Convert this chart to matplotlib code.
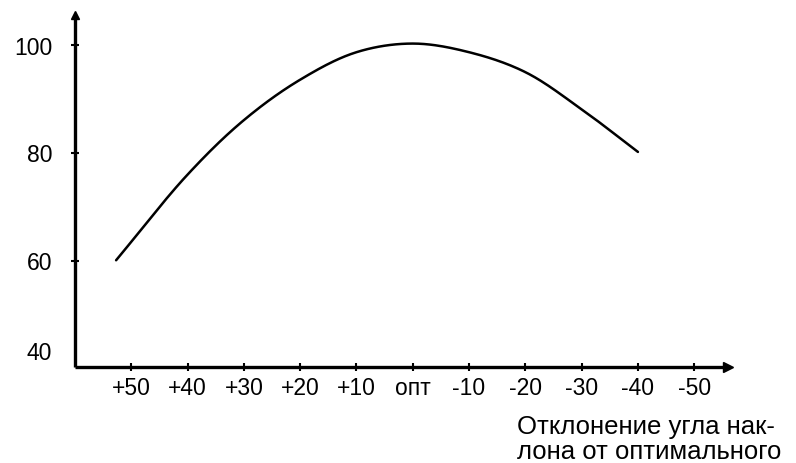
import matplotlib
matplotlib.use("Agg")
import matplotlib.pyplot as plt
import numpy as np

plt.rcParams['font.family'] = ['Liberation Sans', 'DejaVu Sans']

# Data (deviation from optimum; positive = "+")
deviation = [52.7, 40, 30, 20, 10, 0, -10, -20, -30, -40]
efficiency = [60.1, 76.0, 86.1, 93.6, 98.7, 100.3, 98.7, 95.0, 88.1, 80.2]

x_ticks = [50, 40, 30, 20, 10, 0, -10, -20, -30, -40, -50]
x_tick_labels = ['+50', '+40', '+30', '+20', '+10', 'опт', '-10', '-20', '-30', '-40', '-50']
y_ticks = [40, 60, 80, 100]
y_tick_labels = ['40', '60', '80', '100']
x_title = 'Отклонение угла нак-\nлона от оптимального'

fig = plt.figure(figsize=(7.96, 4.63), dpi=100)
ax = fig.add_axes([75/796, 96/463, 653/796, 352/463])


def catmull(xp, yp, n=30, alpha=0.5):
    # centripetal Catmull-Rom spline through the read points
    pts = np.column_stack([xp, yp]).astype(float)
    P = np.vstack([2*pts[0]-pts[1], pts, 2*pts[-1]-pts[-2]])
    out = []
    for i in range(1, len(P)-2):
        p0, p1, p2, p3 = P[i-1], P[i], P[i+1], P[i+2]
        t0 = 0.0
        t1 = t0 + np.linalg.norm(p1-p0)**alpha
        t2 = t1 + np.linalg.norm(p2-p1)**alpha
        t3 = t2 + np.linalg.norm(p3-p2)**alpha
        for t in np.linspace(t1, t2, n, endpoint=False):
            A1 = (t1-t)/(t1-t0)*p0 + (t-t0)/(t1-t0)*p1
            A2 = (t2-t)/(t2-t1)*p1 + (t-t1)/(t2-t1)*p2
            A3 = (t3-t)/(t3-t2)*p2 + (t-t2)/(t3-t2)*p3
            B1 = (t2-t)/(t2-t0)*A1 + (t-t0)/(t2-t0)*A2
            B2 = (t3-t)/(t3-t1)*A2 + (t-t1)/(t3-t1)*A3
            out.append((t2-t)/(t2-t1)*B1 + (t-t1)/(t2-t1)*B2)
    out.append(pts[-1])
    out = np.array(out)
    return out[:, 0], out[:, 1]


cx, cy = catmull(deviation, efficiency)
ax.plot(cx, cy, color='black', lw=1.8, solid_capstyle='round')

ax.set_xlim(60.0, -56.0)
ax.set_ylim(40.3, 105.6)

for s in ['top', 'right']:
    ax.spines[s].set_visible(False)
for s in ['left', 'bottom']:
    ax.spines[s].set_linewidth(2.4)
    ax.spines[s].set_capstyle('butt')

ax.plot(1, 0, marker='>', color='black', markersize=7, transform=ax.transAxes, clip_on=False)
ax.plot(0, 1, marker='^', color='black', markersize=6, transform=ax.transAxes, clip_on=False)

ax.set_xticks(x_ticks)
ax.set_xticklabels(x_tick_labels, fontsize=16.5)
ax.tick_params(axis='x', direction='inout', length=6, width=1.5, pad=4)

ax.set_yticks(y_ticks[1:])
ax.set_yticklabels([])
ax.tick_params(axis='y', direction='inout', length=6, width=1.5)
for v, lab in zip(y_ticks, y_tick_labels):
    dy = 15 if v == y_ticks[0] else -3
    ax.annotate(lab, xy=(0, v), xycoords=('axes fraction', 'data'),
                xytext=(-23, dy), textcoords='offset pixels',
                ha='right', va='center', fontsize=16.5, annotation_clip=False)

fig.text(517/796, 1 - 415/463, x_title, ha='left', va='top', fontsize=18.5,
         linespacing=1.06)

fig.savefig('out.png', dpi=100)
